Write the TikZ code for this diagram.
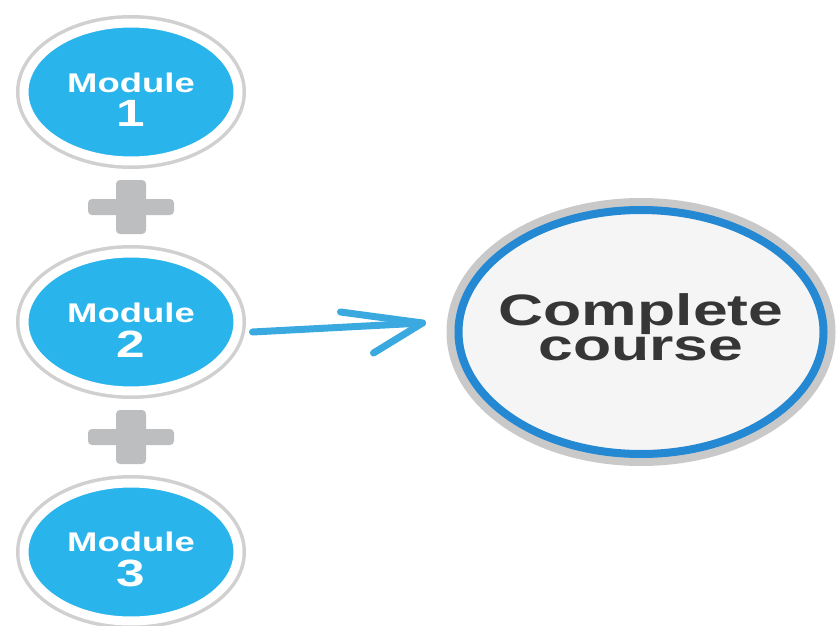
\documentclass[tikz,border=0pt]{standalone}
\usepackage{fontspec}
\setmainfont{Liberation Sans}
\usetikzlibrary{calc, shapes.geometric}

\definecolor{modblue}{HTML}{29B5EC}
\definecolor{ringgray}{HTML}{D0D0D0}
\definecolor{plusgray}{HTML}{BDBEC0}
\definecolor{arrowblue}{HTML}{3AA9DF}
\definecolor{courseblue}{HTML}{2488D2}
\definecolor{coursegray}{HTML}{C9C9C9}
\definecolor{coursefill}{HTML}{F5F5F5}
\definecolor{textgray}{HTML}{363636}

\newcommand{\wide}[2][1.35]{\makebox[0pt]{\scalebox{#1}[1]{#2}}}
\newcommand{\modtext}[1]{\rule{0pt}{35pt}\wide{Module}\\\wide{\fontsize{38}{38}\selectfont #1}}

\begin{document}
\begin{tikzpicture}[x=1pt, y=-1pt,
    module/.style={ellipse, fill=modblue, draw=white, line width=9pt,
        minimum width=214pt, minimum height=138pt, inner sep=0pt,
        preaction={draw=ringgray, line width=16pt},
        text=white, align=center, font=\bfseries\fontsize{27}{35}\selectfont},
    course/.style={ellipse, fill=coursefill, draw=courseblue, line width=8pt,
        minimum width=365pt, minimum height=244pt, inner sep=0pt,
        preaction={draw=coursegray, line width=24pt},
        text=textgray, align=center, font=\bfseries\fontsize{44}{35}\selectfont},
    chalk/.style={draw=arrowblue, line width=7pt, line cap=round, line join=round},
    plusbar/.style={fill=plusgray, rounded corners=4pt}]

    \useasboundingbox (0,0) rectangle (836,626);

    \node[module] (m1) at (131,92) {\modtext{1}};
    \node[module] (m2) at (131,322) {\modtext{2}};
    \node[module] (m3) at (131,552) {\modtext{3}};

    \node[course] (cc) at (641,332) {\wide[1.42]{Complete}\\\wide[1.42]{course}\rule[-10pt]{0pt}{0pt}};

    % plus signs
    \coordinate (p1) at ($(m1)!0.5!(m2)$);
    \coordinate (p2) at ($(m2)!0.5!(m3)$);
    \foreach \p in {p1,p2} {
        \fill[plusbar] ($(\p)+(-43,-8)$) rectangle ($(\p)+(43,8)$);
        \fill[plusbar] ($(\p)+(-15,-27)$) rectangle ($(\p)+(15,27)$);
    }

    % arrow
    \coordinate (tail) at ($(m2.east)+(10,10)$);
    \coordinate (tip) at ($(cc.west)+(-32,-9)$);
    \draw[chalk] (tail) -- (tip);
    \draw[chalk] ($(tip)+(-82,-11)$) -- (tip) -- ($(tip)+(-49,30)$);
\end{tikzpicture}
\end{document}
